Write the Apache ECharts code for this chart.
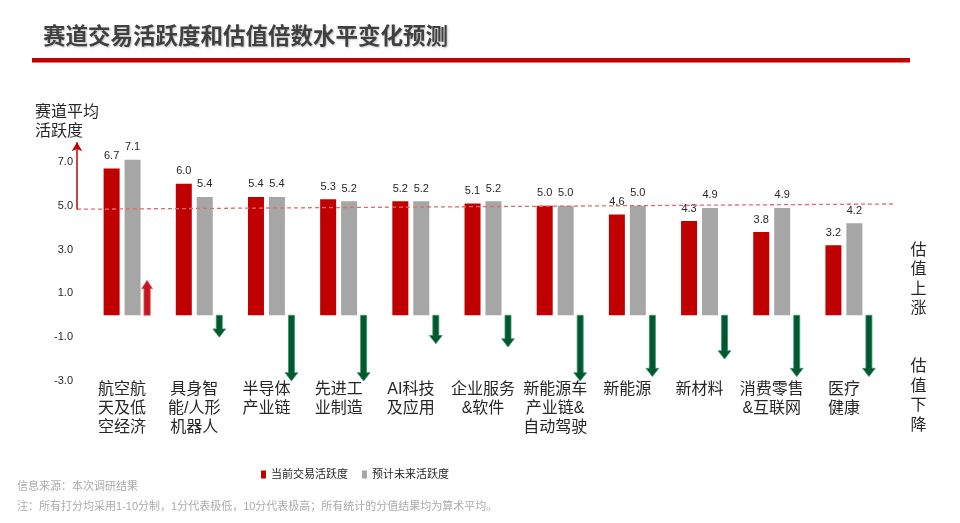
<!DOCTYPE html>
<html>
<head>
<meta charset="utf-8">
<script src="https://cdn.jsdelivr.net/npm/echarts@6/dist/echarts.min.js"></script>
<style>
html,body{margin:0;padding:0;background:#fff;}
#main{width:960px;height:523px;}
</style>
</head>
<body>
<div id="main"></div>
<script>
// ---- data ----
const categories = ['航空航\n天及低\n空经济', '具身智\n能/人形\n机器人', '半导体\n产业链', '先进工\n业制造', 'AI科技\n及应用', '企业服务\n&软件', '新能源车\n产业链&\n自动驾驶', '新能源', '新材料', '消费零售\n&互联网', '医疗\n健康'];
const currentActivity = [6.7, 6.0, 5.4, 5.3, 5.2, 5.1, 5.0, 4.6, 4.3, 3.8, 3.2];
const futureActivity = [7.1, 5.4, 5.4, 5.2, 5.2, 5.2, 5.0, 5.0, 4.9, 4.9, 4.2];
const valuationChange = [1.6, -1.0, -3.0, -3.0, -1.3, -1.45, -3.0, -2.8, -2.0, -2.8, -2.8];
const yTicks = [-3, -1, 1, 3, 5, 7];
const seriesNames = ['当前交易活跃度', '预计未来活跃度'];
// average reference line (start/end along the plot width, value)
const refLine = [[0, 4.84], [1, 5.08]];
const axisArrow = [[0, 4.84], [0, 7.9]];

const FONT = "'Liberation Sans', 'Noto Sans CJK SC', sans-serif";
const TXT = '#262626';

const chart = echarts.init(document.getElementById('main'), null, {renderer: 'canvas'});

const arrowData = valuationChange.map((v, i) => [i, v]);

const option = {
  animation: false,
  textStyle: {fontFamily: FONT},
  grid: [
    {left: 86, right: 80, top: 140, bottom: 142},
    {left: 77, right: 67, top: 140, bottom: 142}
  ],
  legend: {
    data: seriesNames,
    left: 256, top: 464,
    icon: 'rect', itemWidth: 5, itemHeight: 8, itemGap: 14,
    textStyle: {fontSize: 11, color: TXT, fontFamily: FONT}
  },
  xAxis: [{
    type: 'category',
    gridIndex: 0,
    data: categories,
    position: 'bottom',
    axisLine: {show: false, onZero: false},
    axisTick: {show: false},
    axisLabel: {fontSize: 16, lineHeight: 19, color: TXT, margin: -1, interval: 0, fontFamily: FONT}
  }, {
    type: 'value', gridIndex: 1, show: false, min: 0, max: 1
  }],
  yAxis: [{
    type: 'value',
    gridIndex: 0,
    min: yTicks[0], max: 8, interval: 2,
    axisLine: {show: false},
    axisTick: {show: false},
    splitLine: {show: false},
    axisLabel: {
      fontSize: 11, color: TXT, margin: 13, showMaxLabel: false,
      formatter: v => yTicks.indexOf(v) >= 0 ? v.toFixed(1) : ''
    }
  }, {
    type: 'value', gridIndex: 1, show: false, min: yTicks[0], max: 8
  }],
  series: [{
    name: seriesNames[0], type: 'bar', data: currentActivity,
    barWidth: 16, barGap: '31%',
    itemStyle: {color: '#C00000'},
    label: {show: true, position: 'top', distance: 7, fontSize: 11, color: TXT, formatter: p => p.value.toFixed(1)}
  }, {
    name: seriesNames[1], type: 'bar', data: futureActivity,
    barWidth: 16,
    itemStyle: {color: '#A6A6A6'},
    label: {show: true, position: 'top', distance: 7, fontSize: 11, color: TXT, formatter: p => p.value.toFixed(1)}
  }, {
    type: 'custom',
    data: arrowData,
    encode: {x: 0, y: 1},
    renderItem: function (params, api) {
      const i = api.value(0), v = api.value(1);
      const p0 = api.coord([i, 0]);
      const p1 = api.coord([i, v]);
      const x = p0[0] + 25;
      const up = v > 0;
      const sw = up ? 3.2 : 3;
      const hw = up ? 5.5 : 6.4;
      const hl = up ? 8.5 : 8.3;
      const dir = up ? -1 : 1;
      const yTip = p1[1];
      const yBase = yTip - dir * hl;
      return {
        type: 'polygon',
        shape: {points: [[x - sw, p0[1]], [x - sw, yBase], [x - hw, yBase], [x, yTip], [x + hw, yBase], [x + sw, yBase], [x + sw, p0[1]]]},
        style: up ? {fill: '#C8141E', stroke: '#E46A70', lineWidth: 0.8}
                  : {fill: '#00592A', stroke: '#3C8F7E', lineWidth: 0.8}
      };
    },
    z: 3
  }, {
    type: 'line',
    xAxisIndex: 1,
    yAxisIndex: 1,
    data: refLine,
    symbol: 'none',
    clip: false,
    silent: true,
    lineStyle: {color: '#E36A6A', width: 1.3, type: [4, 3]},
    markLine: {
      silent: true,
      symbol: ['none', 'arrow'],
      symbolSize: [8, 9],
      label: {show: false},
      lineStyle: {color: '#C00000', width: 1.5, type: 'solid'},
      data: [[{coord: axisArrow[0]}, {coord: axisArrow[1]}]]
    },
    z: 4
  }],
  graphic: [
    {type: 'text', left: 43, top: 24, style: {text: '赛道交易活跃度和估值倍数水平变化预测', font: "bold 22.5px 'Noto Sans CJK SC', sans-serif", fill: '#404040', textShadowColor: 'rgba(0,0,0,0.25)', textShadowBlur: 2, textShadowOffsetX: 1, textShadowOffsetY: 1}},
    {type: 'rect', shape: {x: 32, y: 58, width: 878, height: 4.5}, style: {fill: '#C00000'}},
    {type: 'text', left: 35, top: 103.5, style: {text: '赛道平均\n活跃度', font: "16px " + FONT, lineHeight: 19, fill: TXT}},
    {type: 'text', x: 918.5, y: 240.5, style: {text: '估\n值\n上\n涨', font: "16px " + FONT, lineHeight: 19.5, fill: TXT, align: 'center'}},
    {type: 'text', x: 918.5, y: 357, style: {text: '估\n值\n下\n降', font: "16px " + FONT, lineHeight: 19.5, fill: TXT, align: 'center'}},
    {type: 'text', left: 17, top: 481, style: {text: '信息来源：本次调研结果', font: "11px " + FONT, fill: '#ABABAB'}},
    {type: 'text', left: 17, top: 501, style: {text: '注：所有打分均采用1-10分制，1分代表极低，10分代表极高；所有统计的分值结果均为算术平均。', font: "11px " + FONT, fill: '#ABABAB'}}
  ]
};
chart.setOption(option);
</script>
</body>
</html>
